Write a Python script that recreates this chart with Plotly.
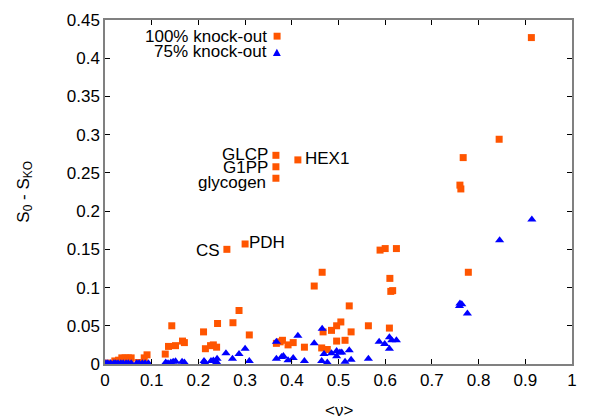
import plotly.graph_objects as go

# 100% knock-out
ko100_v = [0.003, 0.007, 0.021, 0.029, 0.036, 0.043, 0.050, 0.056, 0.054, 0.071,
           0.084, 0.090, 0.129, 0.136, 0.143, 0.151, 0.166, 0.170, 0.211, 0.215,
           0.226, 0.232, 0.239, 0.241, 0.261, 0.274, 0.287, 0.300, 0.309, 0.366,
           0.366, 0.366, 0.367, 0.375, 0.380, 0.392, 0.403, 0.413, 0.427, 0.448,
           0.464, 0.465, 0.467, 0.476, 0.485, 0.496, 0.496, 0.505, 0.514, 0.523,
           0.527, 0.564, 0.589, 0.600, 0.609, 0.610, 0.612, 0.616, 0.624, 0.760,
           0.762, 0.767, 0.778, 0.844, 0.913]
ko100_s = [0.001, 0.001, 0.004, 0.005, 0.008, 0.008, 0.008, 0.008, 0.005, 0.002,
           0.008, 0.012, 0.013, 0.023, 0.050, 0.024, 0.030, 0.028, 0.042, 0.020,
           0.024, 0.025, 0.022, 0.053, 0.150, 0.054, 0.070, 0.157, 0.038, 0.273,
           0.258, 0.243, 0.027, 0.029, 0.031, 0.025, 0.028, 0.267, 0.022, 0.102,
           0.021, 0.120, 0.042, 0.019, 0.044, 0.050, 0.030, 0.055, 0.031, 0.076,
           0.042, 0.050, 0.149, 0.151, 0.047, 0.112, 0.095, 0.096, 0.151, 0.234,
           0.229, 0.270, 0.120, 0.294, 0.427]

# 75% knock-out
ko75_v = [0.002, 0.006, 0.012, 0.019, 0.023, 0.028, 0.034, 0.039, 0.045, 0.050,
          0.056, 0.068, 0.073, 0.080, 0.086, 0.093, 0.130, 0.135, 0.141, 0.146,
          0.151, 0.165, 0.170, 0.212, 0.214, 0.227, 0.232, 0.240, 0.239, 0.259,
          0.273, 0.287, 0.300, 0.309, 0.367, 0.367, 0.378, 0.382, 0.392, 0.403,
          0.413, 0.427, 0.448, 0.465, 0.464, 0.469, 0.476, 0.485, 0.496, 0.496,
          0.503, 0.507, 0.514, 0.523, 0.527, 0.564, 0.587, 0.599, 0.609, 0.614,
          0.624, 0.609, 0.759, 0.760, 0.764, 0.776, 0.845, 0.914]
ko75_s = [0.001, 0.001, 0.001, 0.001, 0.001, 0.001, 0.001, 0.001, 0.001, 0.001,
          0.001, 0.001, 0.001, 0.001, 0.001, 0.001, 0.002, 0.001, 0.002, 0.003,
          0.0035, 0.003, 0.002, 0.004, 0.002, 0.004, 0.0045, 0.007, 0.0025, 0.014,
          0.007, 0.013, 0.020, 0.004, 0.029, 0.007, 0.009, 0.0105, 0.005, 0.008,
          0.037, 0.004, 0.027, 0.046, 0.004, 0.013, 0.002, 0.014, 0.017, 0.010,
          0.015, 0.015, 0.003, 0.018, 0.0056, 0.007, 0.029, 0.026, 0.035, 0.031,
          0.031, 0.020, 0.076, 0.079, 0.078, 0.066, 0.162, 0.189]

x_ticks = [0, 0.1, 0.2, 0.3, 0.4, 0.5, 0.6, 0.7, 0.8, 0.9, 1]
x_tick_labels = ["0", "0.1", "0.2", "0.3", "0.4", "0.5", "0.6", "0.7", "0.8", "0.9", "1"]
y_ticks = [0, 0.05, 0.1, 0.15, 0.2, 0.25, 0.3, 0.35, 0.4, 0.45]
y_tick_labels = ["0", "0.05", "0.1", "0.15", "0.2", "0.25", "0.3", "0.35", "0.4", "0.45"]

legend_labels = ["100% knock-out", "75% knock-out"]
labels = ["GLCP", "G1PP", "glycogen", "HEX1", "PDH", "CS"]

ORANGE = "#ff5500"
BLUE = "#0000ff"
FONT = "Liberation Sans"
FS = 17

fig = go.Figure()
fig.add_trace(go.Scatter(x=ko100_v, y=ko100_s, mode="markers", name=legend_labels[0],
                         marker=dict(symbol="square", size=7, color=ORANGE, line=dict(width=0))))
fig.add_trace(go.Scatter(x=ko75_v, y=ko75_s, mode="markers", name=legend_labels[1],
                         marker=dict(symbol="triangle-up", size=8, color=BLUE, line=dict(width=0))))

ann = []
label_pos = {
    "GLCP": (0.353, 0.274, "right"),
    "G1PP": (0.353, 0.257, "right"),
    "glycogen": (0.349, 0.238, "right"),
    "HEX1": (0.425, 0.269, "left"),
    "PDH": (0.305, 0.159, "left"),
    "CS": (0.251, 0.149, "right"),
}
for lab in labels:
    x, y, anc = label_pos[lab]
    ann.append(dict(x=x, y=y, xref="x", yref="y", text=lab, showarrow=False,
                    xanchor=anc, yanchor="middle", font=dict(size=FS, color="black", family=FONT)))

ann.append(dict(x=0.351, y=0.953, xref="paper", yref="paper", text=legend_labels[0], showarrow=False,
                xanchor="right", yanchor="middle", font=dict(size=FS, color="black", family=FONT)))
ann.append(dict(x=0.351, y=0.907, xref="paper", yref="paper", text=legend_labels[1], showarrow=False,
                xanchor="right", yanchor="middle", font=dict(size=FS, color="black", family=FONT)))

ann.append(dict(x=-0.172, y=0.5, xref="paper", yref="paper", text="S<sub>0</sub> - S<sub>KO</sub>",
                showarrow=False, textangle=-90, xanchor="center", yanchor="middle",
                font=dict(size=FS, color="black", family=FONT)))
ann.append(dict(x=0.5, y=-0.135, xref="paper", yref="paper", text="&lt;ν&gt;",
                showarrow=False, xanchor="center", yanchor="middle",
                font=dict(size=FS, color="black", family=FONT)))

shapes = [
    dict(type="rect", xref="paper", yref="paper", x0=0.361, x1=0.376, y0=0.943, y1=0.963,
         fillcolor=ORANGE, line=dict(width=0)),
    dict(type="path", xref="paper", yref="paper",
         path="M 0.3595 0.8955 L 0.3765 0.8955 L 0.368 0.9165 Z",
         fillcolor=BLUE, line=dict(width=0)),
]

# page body has an 8px margin, so compensate
fig.update_layout(
    width=592, height=412,
    margin=dict(l=97, r=28, t=12, b=56, autoexpand=False),
    paper_bgcolor="white", plot_bgcolor="white",
    showlegend=False,
    annotations=ann, shapes=shapes,
    font=dict(family=FONT, size=FS, color="black"),
)
fig.update_xaxes(range=[0, 1], tickvals=x_ticks, ticktext=x_tick_labels, automargin=False,
                 showgrid=False, zeroline=False, showline=True, linecolor="#808080", linewidth=1.5,
                 mirror="allticks", ticks="inside", ticklen=5, tickcolor="black", tickwidth=1,
                 tickfont=dict(size=FS, family=FONT))
fig.update_yaxes(range=[0, 0.45], tickvals=y_ticks, ticktext=y_tick_labels, automargin=False,
                 showgrid=False, zeroline=False, showline=True, linecolor="#808080", linewidth=1.5,
                 mirror="allticks", ticks="inside", ticklen=5, tickcolor="black", tickwidth=1,
                 tickfont=dict(size=FS, family=FONT))

fig.write_html("out.html")
